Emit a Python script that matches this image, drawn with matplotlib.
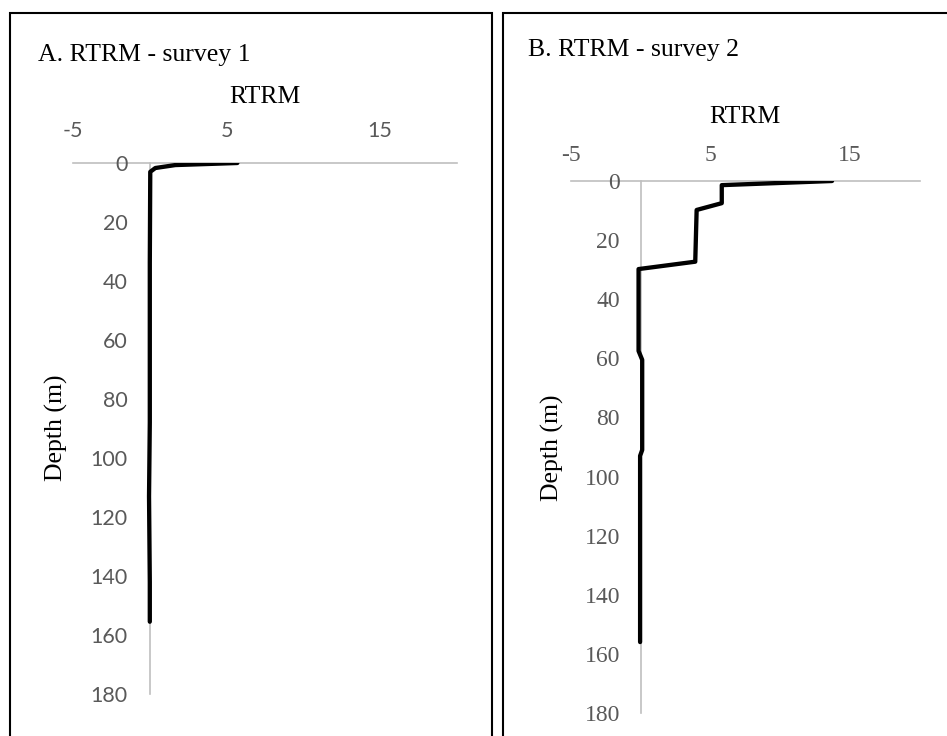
import matplotlib.pyplot as plt
from matplotlib.patches import Rectangle

plt.rcParams['axes.unicode_minus'] = False

# Survey 1 profile (RTRM vs depth)
depth_a = [0, 0.7, 1.7, 3.0, 34, 88, 113, 142, 155.5]
rtrm_a = [5.7, 1.66, 0.36, 0.03, 0.0, 0.0, -0.05, 0.0, 0.0]

# Survey 2 profile
depth_b = [0, 1.4, 7.5, 9.8, 27.3, 29.8, 57.5, 60.5, 91, 93, 156]
rtrm_b = [13.7, 5.8, 5.8, 4.0, 3.9, -0.16, -0.16, 0.1, 0.1, -0.05, -0.05]

x_ticks = [-5, 5, 15]
y_ticks = list(range(0, 181, 20))
titles = ['A. RTRM - survey 1', 'B. RTRM - survey 2']

fig = plt.figure(figsize=(9.47, 7.36), dpi=100)

# panel frames
fig.patches.append(Rectangle((10 / 947, -0.05), 482 / 947, 1.05 - 13 / 736,
                             transform=fig.transFigure, fill=False, ec='black', lw=1.5))
fig.patches.append(Rectangle((503 / 947, -0.05), 0.5, 1.05 - 13 / 736,
                             transform=fig.transFigure, fill=False, ec='black', lw=1.5))

grey_axis = '#bfbfbf'
grey_text = '#595959'
serif = 'Liberation Serif'


def draw_panel(ax, x, y, tick_font, tick_size, xpad, ypad):
    ax.plot(x, y, color='black', lw=3.1, solid_joinstyle='round', solid_capstyle='round')
    ax.set_xlim(-5, 20)
    ax.set_ylim(180, 0)
    ax.set_xticks(x_ticks)
    ax.set_yticks(y_ticks)
    ax.xaxis.tick_top()
    ax.spines['right'].set_visible(False)
    ax.spines['bottom'].set_visible(False)
    ax.spines['left'].set_position(('data', 0))
    for s in ['left', 'top']:
        ax.spines[s].set_color(grey_axis)
        ax.spines[s].set_linewidth(1.2)
        ax.spines[s].set_zorder(0)
    ax.tick_params(axis='x', length=0, pad=xpad, labelcolor=grey_text, labelsize=tick_size)
    ax.tick_params(axis='y', length=0, pad=ypad, labelcolor=grey_text, labelsize=tick_size)
    for lab in ax.get_xticklabels() + ax.get_yticklabels():
        lab.set_fontfamily(tick_font)


ax1 = fig.add_axes([73 / 947, 1 - 694 / 736, 384 / 947, 531 / 736])
draw_panel(ax1, rtrm_a, depth_a, 'Lato', 15.5, 16, 16)
fig.text(265 / 947, 1 - 97 / 736, 'RTRM', ha='center', va='center', family=serif, fontsize=18.5)
fig.text(56 / 947, 1 - 428 / 736, 'Depth (m)', ha='center', va='center', rotation=90,
         family=serif, fontsize=18.5)
fig.text(38 / 947, 1 - 61 / 736, titles[0], ha='left', va='baseline', family=serif, fontsize=18.5)

ax2 = fig.add_axes([571 / 947, 1 - 713 / 736, 349 / 947, 532 / 736])
draw_panel(ax2, rtrm_b, depth_b, serif, 17, 11, 15)
fig.text(745 / 947, 1 - 117 / 736, 'RTRM', ha='center', va='center', family=serif, fontsize=18.5)
fig.text(552 / 947, 1 - 448 / 736, 'Depth (m)', ha='center', va='center', rotation=90,
         family=serif, fontsize=18.5)
fig.text(528 / 947, 1 - 56 / 736, titles[1], ha='left', va='baseline', family=serif, fontsize=18.5)

fig.savefig('out.png', dpi=100)
